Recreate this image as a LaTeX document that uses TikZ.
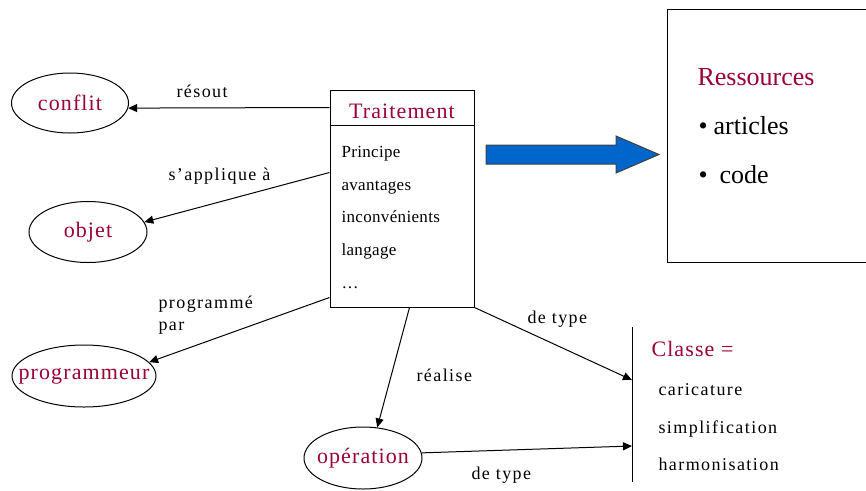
\documentclass[tikz,border=0pt]{standalone}
\usepackage{fontspec}
\setmainfont{Liberation Serif}
\usetikzlibrary{shapes.geometric,arrows.meta,positioning}
\definecolor{lie}{RGB}{153,0,51}
\definecolor{bleu}{RGB}{0,102,204}
\newcommand{\grand}{\fontsize{22}{26}\selectfont\addfontfeature{LetterSpace=5}}
\newcommand{\moyen}{\fontsize{18}{22}\selectfont\addfontfeature{LetterSpace=8}}
\newcommand{\petit}{\fontsize{17}{20}\selectfont\addfontfeature{LetterSpace=2}}
\newcommand{\enorme}{\fontsize{26}{30}\selectfont}

\begin{document}
\begin{tikzpicture}[x=1pt,y=-1pt,line width=1pt,>={Triangle[length=9pt,width=8pt]},
  concept/.style={ellipse,draw,text=lie,font=\grand,inner xsep=-20pt,inner ysep=0pt},
  lien/.style={->},
  etiq/.style={anchor=base west,inner sep=0pt,font=\moyen},
  item/.style={anchor=base west,inner sep=0pt,font=\petit}]

\useasboundingbox (0,0) rectangle (866,490);

  \node[concept,minimum width=117pt,minimum height=60pt]   (conflit)     at (70,103)  {conflit};
  \node[concept,minimum width=118pt,minimum height=61pt]   (objet)       at (88,232)  {objet};
  \node[concept,minimum width=144pt,minimum height=62pt]   (programmeur) at (84,376)  {programmeur};
  \node[concept,minimum width=118pt,minimum height=62pt]   (operation)   at (363,458) {opération};

  \node[draw,minimum width=144pt,minimum height=217pt,inner sep=0pt] (traitement) at (402,198.5) {};
  \draw ([yshift=-36pt]traitement.north west) -- ([yshift=-36pt]traitement.north east);
  \node[anchor=base,inner sep=0pt,text=lie,font=\grand] (titre) at (402,118) {Traitement};
  \foreach \y/\t in {157/Principe,190/avantages,222/inconvénients,255/langage,288/{\ldots}}
    \node[item] at (341,\y) {\t};

  \node[draw,anchor=north west,minimum width=220pt,minimum height=253pt] (ressources) at (667,9) {};
  \node[anchor=base west,inner sep=0pt,text=lie,font=\enorme] (titreRes) at (697,85) {Ressources};
  \node[anchor=base west,inner sep=0pt,font=\enorme] (articles) at (698,134) {\textbullet\hspace{6pt}articles};
  \node[anchor=base west,inner sep=0pt,font=\enorme] (code) at (698,183) {\textbullet\hspace{12pt}code};

  \draw[fill=bleu,draw=black!75] (486,145) -- (616,145) -- (616,136) -- (659,154.5)
    -- (616,173) -- (616,164) -- (486,164) -- cycle;

  \coordinate (classeHaut) at (632,327);
  \coordinate (classeBas)  at (632,482);
  \coordinate (classeA)    at (632,380);
  \coordinate (classeB)    at (632,446);
  \draw (classeHaut) -- (classeBas);
  \node[anchor=base west,inner sep=0pt,text=lie,font=\grand] (titreClasse) at (651,356) {Classe =};
  \foreach \y/\t in {395/caricature,433/simplification,470/harmonisation}
    \node[etiq] at (658,\y) {\t};

\path[lien]
([yshift=-18pt]traitement.north west)   edge (conflit.-5)
([yshift=-83pt]traitement.north west)   edge (objet.10)
([yshift=-208pt]traitement.north west)  edge (programmeur.12)
([xshift=80pt]traitement.south west)    edge (operation.65)
(traitement.south east)                 edge (classeA)
(operation.5)                           edge (classeB)
;

  \node[etiq] at (176,97)  {résout};
  \node[etiq] at (168,180) {s'applique à};
  \node[etiq] at (158,308) {programmé};
  \node[etiq] at (158,330) {par};
  \node[etiq] at (416,381) {réalise};
  \node[etiq] at (527,323) {de type};
  \node[etiq] at (471,479) {de type};
\end{tikzpicture}
\end{document}
